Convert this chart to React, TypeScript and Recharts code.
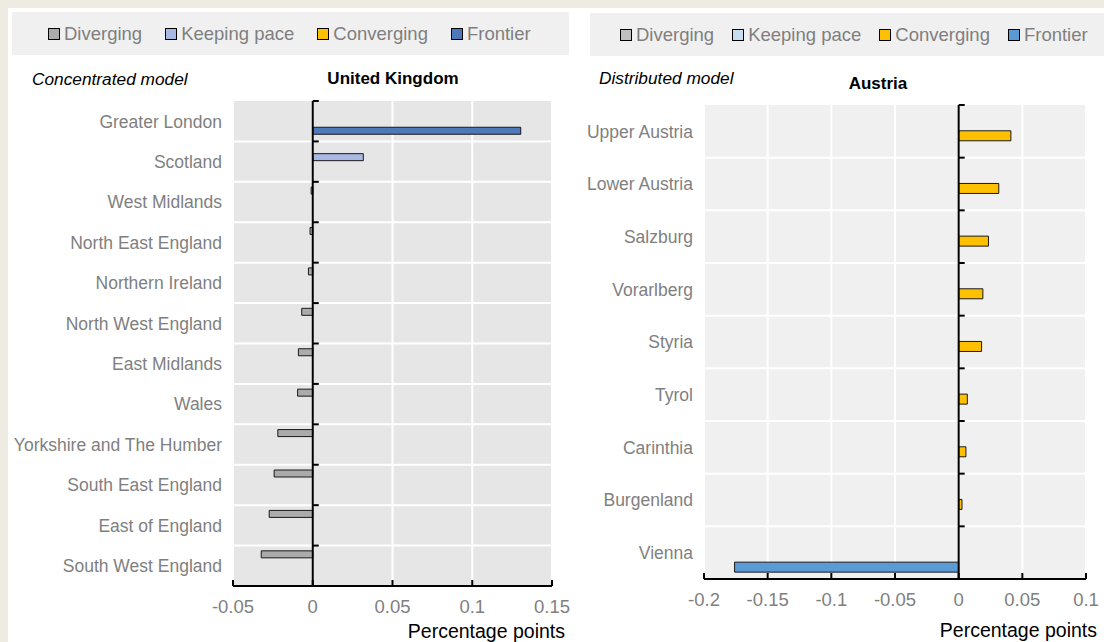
import React from 'react';
import { BarChart, Bar, XAxis, YAxis, CartesianGrid, ReferenceLine } from 'recharts';

// series (same order in both panels, top to bottom inside a category)
const seriesNames = ['Diverging', 'Keeping pace', 'Converging', 'Frontier'];
const ukColors = ['#ABABAB', '#A9B9E3', '#FFC000', '#4E79B9'];
const atColors = ['#BFBFBF', '#C6DEF2', '#FFC000', '#5B9BD5'];

// United Kingdom - concentrated model
const ukRegions = [
  'Greater London', 'Scotland', 'West Midlands', 'North East England', 'Northern Ireland',
  'North West England', 'East Midlands', 'Wales', 'Yorkshire and The Humber',
  'South East England', 'East of England', 'South West England',
];
const ukValues = [0.1304, 0.0317, -0.001, -0.0017, -0.0027, -0.0069, -0.009, -0.0095, -0.0219, -0.0242, -0.0273, -0.0323];
const ukGroups = [
  'Frontier', 'Keeping pace', 'Diverging', 'Diverging', 'Diverging', 'Diverging',
  'Diverging', 'Diverging', 'Diverging', 'Diverging', 'Diverging', 'Diverging',
];
const ukTicks = [-0.05, 0, 0.05, 0.1, 0.15];

// Austria - distributed model
const atRegions = ['Upper Austria', 'Lower Austria', 'Salzburg', 'Vorarlberg', 'Styria', 'Tyrol', 'Carinthia', 'Burgenland', 'Vienna'];
const atValues = [0.041, 0.0315, 0.0234, 0.019, 0.018, 0.0068, 0.0057, 0.0026, -0.176];
const atGroups = ['Converging', 'Converging', 'Converging', 'Converging', 'Converging', 'Converging', 'Converging', 'Converging', 'Frontier'];
const atTicks = [-0.2, -0.15, -0.1, -0.05, 0, 0.05, 0.1];

const buildRows = (names: string[], values: number[], groups: string[]) =>
  names.map((name, i) => {
    const row: any = { name };
    seriesNames.forEach((s) => { row[s] = groups[i] === s ? values[i] : null; });
    return row;
  });

const FONT = "'Liberation Sans', Arial, sans-serif";
const GREY_TEXT = '#7F7F7F';

type PanelCfg = {
  rows: any[];
  colors: string[];
  ticks: number[];
  width: number;
  height: number;
  yw: number;
  mt: number;
  mr: number;
  xh: number;
  gap: string;
  plotFill: string;
};

const Panel = ({ cfg }: { cfg: PanelCfg }) => {
  const { rows, colors, ticks, width, height, yw, mt, mr, xh, gap, plotFill } = cfg;
  const domain = [ticks[0], ticks[ticks.length - 1]];
  const plotW = width - yw - mr;
  const plotH = height - mt - xh;
  const band = plotH / rows.length;
  const zeroX = yw + (plotW * (0 - domain[0])) / (domain[1] - domain[0]);
  const axisY = mt + plotH;

  const YTick = (p: any) => (
    <g>
      <text x={p.x} y={p.y} dy="0.36em" textAnchor="end" fill={GREY_TEXT} fontSize={17.5} fontFamily={FONT}>
        {p.payload.value}
      </text>
      <line x1={zeroX} x2={zeroX + 6} y1={p.y - band / 2} y2={p.y - band / 2} stroke="#000" strokeWidth={2} />
    </g>
  );

  const XTick = (p: any) => (
    <g>
      <line x1={p.x} x2={p.x} y1={axisY} y2={axisY - 6} stroke="#000" strokeWidth={2} />
      <text x={p.x} y={axisY + 14} dy="0.72em" textAnchor="middle" fill={GREY_TEXT} fontSize={18.5} fontFamily={FONT}>
        {p.payload.value}
      </text>
    </g>
  );

  return (
    <BarChart
      width={width}
      height={height}
      data={rows}
      layout="vertical"
      margin={{ top: mt, right: mr, bottom: 0, left: 0 }}
      barCategoryGap={gap}
      barGap={0}
    >
      <CartesianGrid
        fill={plotFill}
        stroke="#FFFFFF"
        strokeWidth={2}
        horizontalCoordinatesGenerator={({ offset }: any) =>
          rows.slice(1).map((_, i) => offset.top + ((i + 1) * offset.height) / rows.length)
        }
      />
      <XAxis
        type="number"
        domain={domain}
        ticks={ticks}
        allowDataOverflow
        height={xh}
        tickSize={0}
        tickMargin={0}
        axisLine={{ stroke: '#000', strokeWidth: 2 }}
        tickLine={false}
        tick={XTick}
        interval={0}
      />
      <YAxis
        type="category"
        dataKey="name"
        width={yw}
        axisLine={false}
        tickLine={false}
        tickSize={0}
        tickMargin={11}
        tick={YTick}
        interval={0}
      />
      {seriesNames.map((s, i) => (
        <Bar key={s} dataKey={s} fill={colors[i]} stroke="#1A1A1A" strokeWidth={1} isAnimationActive={false} />
      ))}
      <ReferenceLine x={0} stroke="#000" strokeWidth={2} />
    </BarChart>
  );
};

const LegendBand = ({ colors, left, top, width, padLeft, gap }: any) => (
  <div
    style={{
      position: 'absolute', left, top, width, height: 43, background: '#F0F0F0',
      display: 'flex', alignItems: 'center', paddingLeft: padLeft, boxSizing: 'border-box', gap,
    }}
  >
    {seriesNames.map((s, i) => (
      <div key={s} style={{ display: 'flex', alignItems: 'center', gap: 4 }}>
        <span style={{ width: 10, height: 10, background: colors[i], border: '1px solid #000', display: 'inline-block' }} />
        <span style={{ color: GREY_TEXT, fontSize: 18.5, lineHeight: '20px' }}>{s}</span>
      </div>
    ))}
  </div>
);

const txt = (style: React.CSSProperties): React.CSSProperties => ({
  position: 'absolute', lineHeight: '20px', whiteSpace: 'nowrap', color: '#000', ...style,
});

export default function App() {
  const ukRows = buildRows(ukRegions, ukValues, ukGroups);
  const atRows = buildRows(atRegions, atValues, atGroups);

  return (
    <div style={{ position: 'fixed', left: 0, top: 0, width: 1104, height: 642, background: '#EEEBE2', overflow: 'hidden', fontFamily: FONT }}>
      <div style={{ position: 'absolute', left: 8, top: 8, right: 0, bottom: 0, background: '#FFFFFF' }} />

      <LegendBand colors={ukColors} left={12} top={12} width={557} padLeft={36} gap={23} />
      <LegendBand colors={atColors} left={590} top={13} width={514} padLeft={30} gap={18} />

      <div style={txt({ left: 32, top: 69, fontSize: 17.3, fontStyle: 'italic' })}>Concentrated model</div>
      <div style={txt({ left: 393, top: 69, fontSize: 17, fontWeight: 'bold', transform: 'translateX(-50%)' })}>United Kingdom</div>
      <div style={txt({ left: 599, top: 68, fontSize: 17.3, fontStyle: 'italic' })}>Distributed model</div>
      <div style={txt({ left: 878, top: 74, fontSize: 17, fontWeight: 'bold', transform: 'translateX(-50%)' })}>Austria</div>

      <div style={{ position: 'absolute', left: 0, top: 0 }}>
        <Panel
          cfg={{ rows: ukRows, colors: ukColors, ticks: ukTicks, width: 570, height: 642, yw: 233, mt: 101, mr: 18, xh: 56, gap: '13%', plotFill: '#E6E6E6' }}
        />
      </div>
      <div style={{ position: 'absolute', left: 570, top: 0 }}>
        <Panel
          cfg={{ rows: atRows, colors: atColors, ticks: atTicks, width: 534, height: 642, yw: 134, mt: 105, mr: 18, xh: 63, gap: '11%', plotFill: '#F0F0F0' }}
        />
      </div>

      <div style={txt({ right: 1104 - 565, top: 620, fontSize: 19.5, lineHeight: '22px' })}>Percentage points</div>
      <div style={txt({ right: 1104 - 1097, top: 619, fontSize: 19.5, lineHeight: '22px' })}>Percentage points</div>
    </div>
  );
}
